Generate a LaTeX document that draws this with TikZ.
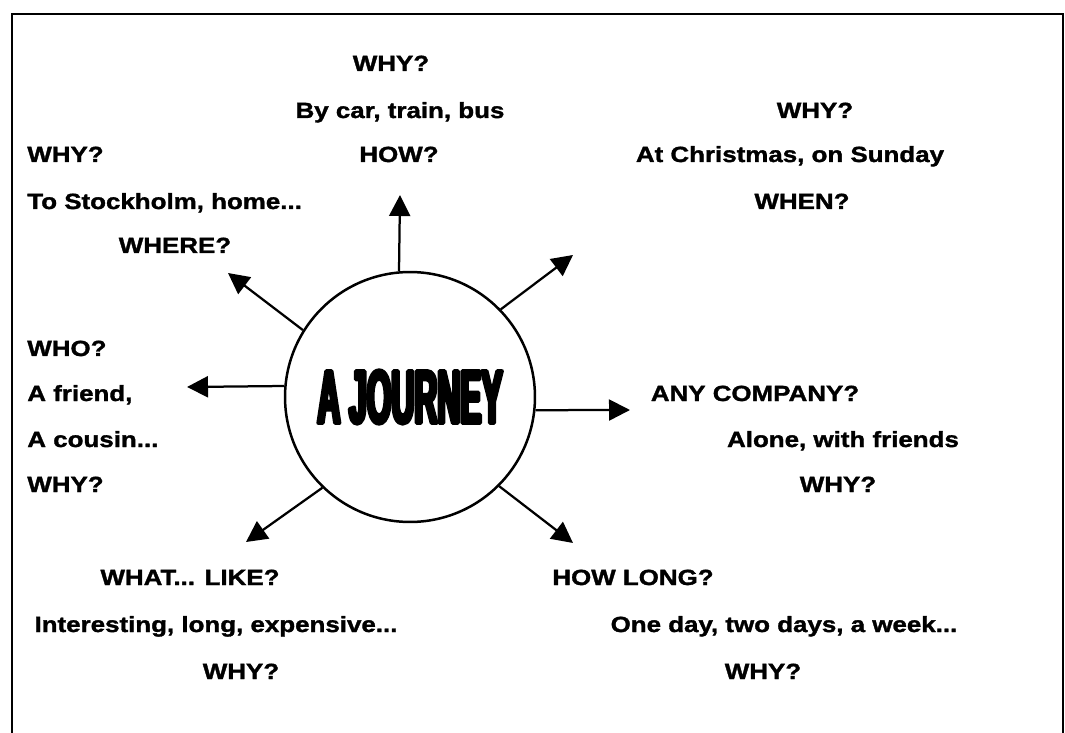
\documentclass[tikz,border=0pt]{standalone}
\usepackage{fontspec}
\usepackage{tikz}
\usetikzlibrary{arrows.meta}
\newfontfamily\mapfont{Liberation Sans}[FakeStretch=1.18,FakeBold=1.5]
\newfontfamily\hubfont{Liberation Sans}[FakeStretch=0.42,FakeBold=5]

\begin{document}
\begin{tikzpicture}[x=0.02cm,y=-0.02cm,
    lbl/.style={font=\mapfont\bfseries\fontsize{12.5}{15}\selectfont,
                inner sep=0pt,anchor=base},
    arr/.style={line width=0.045cm,-{Triangle[length=0.42cm,width=0.42cm]}}]
  \useasboundingbox (0,0) rectangle (1065,733);
  % frame, open at the bottom
  \draw[line width=0.04cm] (12,733) -- (12,14) -- (1063,14) -- (1063,733);

  \node[circle,draw,line width=0.05cm,line join=round,minimum size=5cm,
        inner sep=0pt] (hub)
    at (410,397) {\hubfont\bfseries\fontsize{43}{43}\selectfont A JOURNEY};

  % centred lines
  \foreach \name/\x/\y/\txt in {
    howwhy/391/71/{WHY?},
    howans/400/118/{By car, train, bus},
    howq/399/162/{HOW?},
    whereq/175/253/{WHERE?},
    whenwhy/815/118/{WHY?},
    whenans/790/162/{At Christmas, on Sunday},
    whenq/802/209/{WHEN?},
    compq/755/401/{ANY COMPANY?},
    compans/843/447/{Alone, with friends},
    compwhy/838/492/{WHY?},
    likeq/190/585/{WHAT... LIKE?},
    likeans/216/632/{Interesting, long, expensive...},
    likewhy/241/679/{WHY?},
    longq/633/585/{HOW LONG?},
    longans/784/632/{One day, two days, a week...},
    longwhy/763/679/{WHY?}}
  {
    \node[lbl] (\name) at (\x,\y) {\txt};
  }
  % lines set flush left
  \foreach \name/\y/\txt in {
    wherewhy/162/{WHY?},
    whereans/209/{To Stockholm, home...},
    whoq/356/{WHO?},
    whoans/401/{A friend,},
    whoalt/447/{A cousin...},
    whowhy/492/{WHY?}}
  {
    \node[lbl,anchor=base west] (\name) at (27,\y) {\txt};
  }

  \coordinate (tiphow)   at (400,195);
  \coordinate (tipwhen)  at (573,255);
  \coordinate (tipcomp)  at (630,410);
  \coordinate (tiplong)  at (573,543);
  \coordinate (tiplike)  at (246,542);
  \coordinate (tipwho)   at (187,387);
  \coordinate (tipwhere) at (228,273);

  \foreach \ang/\tip in {95/how,44/when,-6/comp,-45/long,
                         -134/like,175/who,148/where}
    \draw[arr] (hub.\ang) -- (tip\tip);
\end{tikzpicture}
\end{document}
